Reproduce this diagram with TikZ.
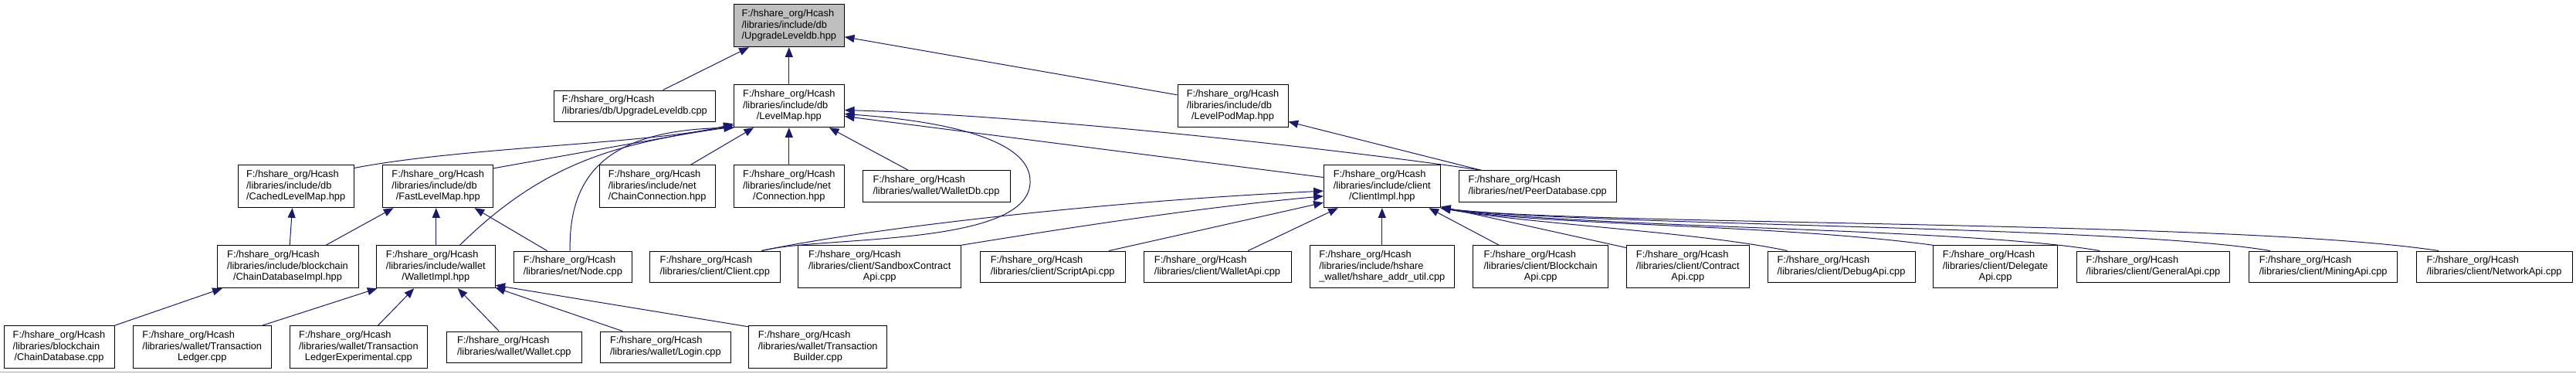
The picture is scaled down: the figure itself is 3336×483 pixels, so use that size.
\documentclass[tikz,border=0pt]{standalone}
\usepackage{fontspec}
\setmainfont{Liberation Sans}
\usetikzlibrary{calc,arrows.meta}
\definecolor{edgeblue}{HTML}{191970}
\definecolor{curgray}{HTML}{BFBFBF}
\newcommand{\lbtwo}[2]{\begin{tabular}{@{}l@{}}#1\\\multicolumn{1}{@{}c@{}}{#2}\end{tabular}}
\newcommand{\lbthree}[3]{\begin{tabular}{@{}l@{}}#1\\#2\\\multicolumn{1}{@{}c@{}}{#3}\end{tabular}}
\newcommand{\HC}{F:/hshare\_org/Hcash}
\begin{document}
\begin{tikzpicture}[x=0.75pt,y=-0.75pt,
  filebox/.style={draw=black,fill=white,line width=0.75pt,inner sep=0pt,anchor=center,font=\fontsize{9.6pt}{11pt}\selectfont},
  curbox/.style={filebox,fill=curgray},
  bx/.style n args={4}{minimum width={(#3-#1)*0.75pt},minimum height={(#4-#2)*0.75pt},at={({(#1+#3)/2},{(#2+#4)/2})}},
  dep/.style={draw=edgeblue,line width=0.75pt,-{Triangle[length=9.5pt,width=7.5pt]}}]
\useasboundingbox (0,0) rectangle (3336,483);
\fill[white] (0,0) rectangle (3336,483);
\draw[gray!70,line width=0.75pt] (0,481.7) -- (3336,481.7);

% nodes
\node[curbox,bx={950.3}{5.7}{1093.3}{60.7}] (uh) {\lbthree{\HC}{/libraries/include/db}{/UpgradeLeveldb.hpp}};
\node[filebox,bx={717}{117}{926.7}{157.3}] (ucpp) {\lbtwo{\HC}{/libraries/db/UpgradeLeveldb.cpp}};
\node[filebox,bx={950.3}{109.7}{1093.3}{164.7}] (lm) {\lbthree{\HC}{/libraries/include/db}{/LevelMap.hpp}};
\node[filebox,bx={1525}{109.7}{1668}{164.7}] (lpm) {\lbthree{\HC}{/libraries/include/db}{/LevelPodMap.hpp}};
\node[filebox,bx={308.3}{213.7}{458}{268.7}] (clm) {\lbthree{\HC}{/libraries/include/db}{/CachedLevelMap.hpp}};
\node[filebox,bx={495.7}{213.7}{638.7}{268.7}] (flm) {\lbthree{\HC}{/libraries/include/db}{/FastLevelMap.hpp}};
\node[filebox,bx={776.3}{213.7}{926}{268.7}] (cc) {\lbthree{\HC}{/libraries/include/net}{/ChainConnection.hpp}};
\node[filebox,bx={950.3}{213.7}{1093.3}{268.7}] (con) {\lbthree{\HC}{/libraries/include/net}{/Connection.hpp}};
\node[filebox,bx={1117}{220.7}{1308}{261.3}] (wdb) {\lbtwo{\HC}{/libraries/wallet/WalletDb.cpp}};
\node[filebox,bx={1714.3}{213.7}{1865.3}{268.7}] (ci) {\lbthree{\HC}{/libraries/include/client}{/ClientImpl.hpp}};
\node[filebox,bx={1889}{220.7}{2093.3}{261.3}] (pdb) {\lbtwo{\HC}{/libraries/net/PeerDatabase.cpp}};
\node[filebox,bx={281}{317.7}{464}{372.7}] (cdi) {\lbthree{\HC}{/libraries/include/blockchain}{/ChainDatabaseImpl.hpp}};
\node[filebox,bx={487.7}{317.7}{641}{372.7}] (wi) {\lbthree{\HC}{/libraries/include/wallet}{/WalletImpl.hpp}};
\node[filebox,bx={665.7}{325}{818}{365.3}] (nodecpp) {\lbtwo{\HC}{/libraries/net/Node.cpp}};
\node[filebox,bx={841.7}{325}{1010}{365.3}] (client) {\lbtwo{\HC}{/libraries/client/Client.cpp}};
\node[filebox,bx={1033.7}{317.7}{1244.7}{372.7}] (sbx) {\lbthree{\HC}{/libraries/client/SandboxContract}{Api.cpp}};
\node[filebox,bx={1269}{325}{1457.3}{365.3}] (script) {\lbtwo{\HC}{/libraries/client/ScriptApi.cpp}};
\node[filebox,bx={1481}{325}{1672}{365.3}] (wapi) {\lbtwo{\HC}{/libraries/client/WalletApi.cpp}};
\node[filebox,bx={1696.3}{317.7}{1883.3}{372.7}] (hau) {\lbthree{\HC}{/libraries/include/hshare}{\_wallet/hshare\_addr\_util.cpp}};
\node[filebox,bx={1907.7}{317.7}{2082.7}{372.7}] (bca) {\lbthree{\HC}{/libraries/client/Blockchain}{Api.cpp}};
\node[filebox,bx={2106.3}{317.7}{2265.3}{372.7}] (capi) {\lbthree{\HC}{/libraries/client/Contract}{Api.cpp}};
\node[filebox,bx={2289}{325}{2480}{365.3}] (dbg) {\lbtwo{\HC}{/libraries/client/DebugApi.cpp}};
\node[filebox,bx={2503.3}{317.7}{2664.8}{372.7}] (dlg) {\lbthree{\HC}{/libraries/client/Delegate}{Api.cpp}};
\node[filebox,bx={2689.2}{325}{2887.7}{365.3}] (gen) {\lbtwo{\HC}{/libraries/client/GeneralApi.cpp}};
\node[filebox,bx={2912.6}{325}{3104.6}{365.3}] (mine) {\lbtwo{\HC}{/libraries/client/MiningApi.cpp}};
\node[filebox,bx={3129}{325}{3331}{365.3}] (net) {\lbtwo{\HC}{/libraries/client/NetworkApi.cpp}};
\node[filebox,bx={5}{421.7}{148}{476.7}] (cdb) {\lbthree{\HC}{/libraries/blockchain}{/ChainDatabase.cpp}};
\node[filebox,bx={172.3}{421.7}{351.3}{476.7}] (tl) {\lbthree{\HC}{/libraries/wallet/Transaction}{Ledger.cpp}};
\node[filebox,bx={375}{421.7}{553.7}{476.7}] (tle) {\lbthree{\HC}{/libraries/wallet/Transaction}{LedgerExperimental.cpp}};
\node[filebox,bx={578.3}{429}{753.3}{469.3}] (wal) {\lbtwo{\HC}{/libraries/wallet/Wallet.cpp}};
\node[filebox,bx={777.7}{429}{946}{469.3}] (login) {\lbtwo{\HC}{/libraries/wallet/Login.cpp}};
\node[filebox,bx={969.7}{421.7}{1148.7}{476.7}] (tb) {\lbthree{\HC}{/libraries/wallet/Transaction}{Builder.cpp}};

% edges to UpgradeLeveldb.hpp
\draw[dep] ($(ucpp.north west)+(142,0)$) -- ($(uh.south west)+(20,0)$);
\draw[dep] (lm.north) -- (uh.south);
\draw[dep] ($(lpm.north west)+(0,13.6)$) -- ($(uh.north east)+(0,42.6)$);

% edges to LevelMap.hpp
\draw[dep] ($(clm.north east)+(0,4.3)$) .. controls (600,190) and (850,186) .. ($(lm.south west)+(0,-5)$);
\draw[dep] ($(flm.north east)+(0,4.6)$) -- ($(lm.south west)+(0,-3)$);
\draw[dep] ($(wi.north west)+(108.3,0)$) .. controls (700,215) and (790,186) .. ($(lm.south west)+(0,-1)$);
\draw[dep] ($(nodecpp.north west)+(73,0)$) .. controls (736,215) and (800,168) .. ($(lm.south west)+(1,0)$);
\draw[dep] ($(cc.north west)+(118.7,0)$) -- ($(lm.south west)+(26.4,0)$);
\draw[dep] (con.north) -- (lm.south);
\draw[dep] ($(wdb.north west)+(59.7,0)$) -- ($(lm.south east)+(-20,0)$);
\draw[dep] ($(client.north west)+(145.3,0)$) .. controls (1060,305) and (1330,320) .. (1334,237)
   .. controls (1338,175) and (1200,155) .. ($(lm.south east)+(0,-17.7)$);
\draw[dep] ($(ci.north west)+(0,16.3)$) -- ($(lm.south east)+(0,-14.7)$);
\draw[dep] ($(pdb.north west)+(29.3,0)$) .. controls (1750,195) and (1350,150) .. ($(lm.south east)+(0,-22.7)$);

% LevelPodMap
\draw[dep] ($(pdb.north west)+(29.3,0)$) -- ($(lpm.south east)+(0,-7.7)$);

% CachedLevelMap / FastLevelMap
\draw[dep] ($(cdi.north west)+(94.7,0)$) -- ($(clm.south west)+(70.7,0)$);
\draw[dep] ($(cdi.north west)+(141.7,0)$) -- ($(flm.south west)+(14.3,0)$);
\draw[dep] ($(wi.north west)+(77.6,0)$) -- ($(flm.south west)+(69.6,0)$);
\draw[dep] ($(nodecpp.north west)+(43.3,0)$) -- ($(flm.south west)+(119.3,0)$);

% ChainDatabaseImpl
\draw[dep] (cdb.north east) -- ($(cdi.south west)+(7.3,0)$);

% WalletImpl
\draw[dep] ($(tl.north west)+(167.7,0)$) -- ($(wi.south west)+(1.3,0)$);
\draw[dep] ($(tle.north west)+(115,0)$) -- ($(wi.south west)+(49,0)$);
\draw[dep] ($(wal.north west)+(68.4,0)$) -- ($(wi.south west)+(105.6,0)$);
\draw[dep] ($(login.north west)+(29,0)$) -- ($(wi.south east)+(0,-1)$);
\draw[dep] ($(tb.north west)+(0,1.6)$) -- ($(wi.south east)+(0,-4)$);

% ClientImpl
\draw[dep] ($(client.north west)+(145.3,0)$) .. controls (1100,300) and (1400,262) .. ($(ci.south west)+(0,-22)$);
\draw[dep] (sbx.north east) .. controls (1400,292) and (1560,268) .. ($(ci.south west)+(0,-15.4)$);
\draw[dep] ($(script.north west)+(167.7,0)$) -- ($(ci.south west)+(0,-7)$);
\draw[dep] ($(wapi.north west)+(135.7,0)$) -- ($(ci.south west)+(19,0)$);
\draw[dep] (hau.north) -- (ci.south);
\draw[dep] ($(bca.north west)+(34,0)$) -- ($(ci.south east)+(-15.3,0)$);
\draw[dep] ($(capi.north west)+(0,3.3)$) -- ($(ci.south east)+(0,-1.7)$);
\draw[dep] ($(dbg.north west)+(26,0)$) .. controls (2200,300) and (1980,290) .. (ci.south east);
\draw[dep] (dlg.north west) .. controls (2300,290) and (2000,292) .. (ci.south east);
\draw[dep] ($(gen.north west)+(30.5,0)$) .. controls (2550,295) and (2050,295) .. (ci.south east);
\draw[dep] ($(mine.north west)+(27.7,0)$) .. controls (2750,292) and (2050,292) .. (ci.south east);
\draw[dep] ($(net.north west)+(29.6,0)$) .. controls (2900,285) and (2050,292) .. (ci.south east);
\end{tikzpicture}
\end{document}
